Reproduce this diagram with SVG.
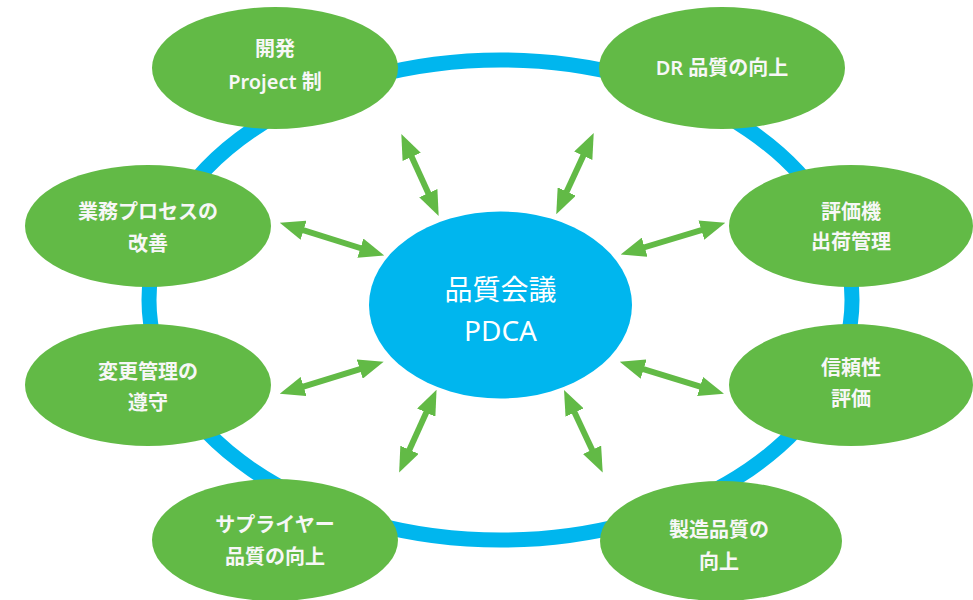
<svg xmlns="http://www.w3.org/2000/svg" width="973" height="600" viewBox="0 0 973 600">
  <defs>
    <marker id="ah" viewBox="0 0 25 20" markerWidth="25" markerHeight="20" refX="13" refY="10" orient="auto-start-reverse" markerUnits="userSpaceOnUse">
      <path d="M0,0 L25,10 L0,20 z" fill="#62BA46"/>
    </marker>
  </defs>
  <style>
    .node { fill: #62BA46; }
    .hub { fill: #00B6EE; }
    .ring { fill: none; stroke: #00B6EE; stroke-width: 15; }
    .t { fill: #F7F7F7; font-family: "Noto Sans", "Noto Sans CJK JP", sans-serif; font-size: 20px; font-weight: 600; text-anchor: middle; }
    .c { fill: #FFFFFF; font-family: "Noto Sans", "Noto Sans CJK JP", sans-serif; font-size: 28px; text-anchor: middle; }
    .arr { stroke: #62BA46; stroke-width: 6; fill: none; marker-start: url(#ah); marker-end: url(#ah); }
  </style>
  <rect width="973" height="600" fill="#FFFFFF"/>
  <ellipse class="ring" cx="500.5" cy="300" rx="351.5" ry="240"/>

  <g id="connectors">
    <line class="arr" x1="406.3" y1="145" x2="433.7" y2="205"/>
    <line class="arr" x1="588.7" y1="144" x2="561.3" y2="203.3"/>
    <line class="arr" x1="291.2" y1="226.3" x2="372.8" y2="252"/>
    <line class="arr" x1="632.2" y1="251" x2="713.8" y2="226.3"/>
    <line class="arr" x1="291.2" y1="390.3" x2="372.2" y2="365.3"/>
    <line class="arr" x1="631.2" y1="365.3" x2="712.5" y2="390.3"/>
    <line class="arr" x1="431.6" y1="400.8" x2="404.1" y2="461.6"/>
    <line class="arr" x1="569.1" y1="400.8" x2="597.6" y2="461.6"/>
  </g>

  <g id="hub">
    <ellipse class="hub" cx="500.5" cy="305" rx="131.5" ry="93.5"/>
    <text class="c" x="500.5" y="300">品質会議</text>
    <text class="c" x="500.5" y="341">PDCA</text>
  </g>

  <g id="n-dev">
    <ellipse class="node" cx="275" cy="68" rx="123" ry="61"/>
    <text class="t" x="275" y="56">開発</text>
    <text class="t" x="275" y="89">Project 制</text>
  </g>
  <g id="n-dr">
    <ellipse class="node" cx="722" cy="68" rx="123" ry="61"/>
    <text class="t" x="722" y="75">DR 品質の向上</text>
  </g>
  <g id="n-process">
    <ellipse class="node" cx="148" cy="226" rx="123" ry="61"/>
    <text class="t" x="148" y="219">業務プロセスの</text>
    <text class="t" x="148" y="251">改善</text>
  </g>
  <g id="n-eval">
    <ellipse class="node" cx="851" cy="226" rx="122" ry="61"/>
    <text class="t" x="851" y="219">評価機</text>
    <text class="t" x="851" y="249">出荷管理</text>
  </g>
  <g id="n-change">
    <ellipse class="node" cx="148" cy="385" rx="123" ry="61"/>
    <text class="t" x="148" y="379">変更管理の</text>
    <text class="t" x="148" y="410">遵守</text>
  </g>
  <g id="n-reliability">
    <ellipse class="node" cx="851" cy="385" rx="122" ry="61"/>
    <text class="t" x="851" y="375">信頼性</text>
    <text class="t" x="851" y="406">評価</text>
  </g>
  <g id="n-supplier">
    <ellipse class="node" cx="275" cy="540" rx="123" ry="61"/>
    <text class="t" x="275" y="532">サプライヤー</text>
    <text class="t" x="275" y="564">品質の向上</text>
  </g>
  <g id="n-mfg">
    <ellipse class="node" cx="721" cy="541" rx="121" ry="60"/>
    <text class="t" x="719" y="537">製造品質の</text>
    <text class="t" x="719" y="569">向上</text>
  </g>
</svg>
